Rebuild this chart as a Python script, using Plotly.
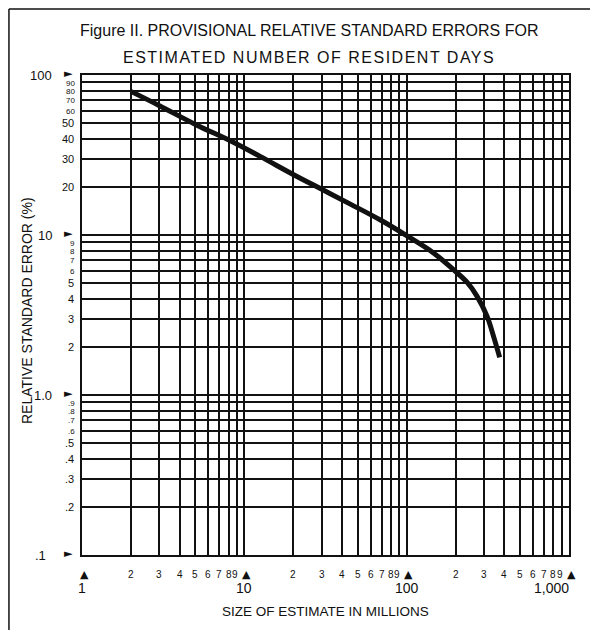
import numpy as np
import plotly.graph_objects as go

# ---- data ----
size_millions = [2, 3, 5.1, 8.2, 12.5, 20, 30, 45, 69, 100, 147, 195, 236, 271, 313, 344, 374]
rse_percent = [79, 64.3, 48.6, 38.8, 31.0, 23.9, 19.3, 15.6, 12.4, 9.9, 7.7, 6.05, 5.05, 4.15, 3.1, 2.3, 1.72]

y_big_labels = [(100, "100"), (10, "10"), (1, "1.0"), (0.1, ".1")]
y_tiny_labels = [(90, "90"), (80, "80"), (70, "70"), (60, "60"),
                 (9, "9"), (8, "8"), (7, "7"), (6, "6"),
                 (0.9, ".9"), (0.8, ".8"), (0.7, ".7"), (0.6, ".6")]
y_mid_labels = [(50, "50"), (40, "40"), (30, "30"), (20, "20"),
                (5, "5"), (4, "4"), (3, "3"), (2, "2"),
                (0.5, ".5"), (0.4, ".4"), (0.3, ".3"), (0.2, ".2")]
x_major_labels = [(1, "1"), (10, "10"), (100, "100"), (1000, "1,000")]
x_minor_digits = [2, 3, 4, 5, 6, 7, 8, 9]

title_line1 = "Figure II. PROVISIONAL RELATIVE STANDARD ERRORS FOR"
title_line2 = "ESTIMATED NUMBER OF RESIDENT DAYS"
x_title = "SIZE OF ESTIMATE IN MILLIONS"
y_title = "RELATIVE STANDARD ERROR (%)"

FONT = "Liberation Sans, Arial, Helvetica, sans-serif"
INK = "#111111"

fig = go.Figure()
fig.add_trace(go.Scatter(
    x=size_millions, y=rse_percent, mode="lines",
    line=dict(color=INK, width=5, shape="spline", smoothing=1.0),
    hoverinfo="skip", showlegend=False))

ann = []
# y labels
for v, t in y_big_labels:
    ann.append(dict(x=0, xref="paper", y=np.log10(v), yref="y", text=t,
                    xanchor="right", yanchor="middle", xshift=-28 if t != ".1" else -34,
                    showarrow=False, font=dict(family=FONT, size=13, color=INK)))
    ann.append(dict(x=0, xref="paper", y=np.log10(v), yref="y", text="►",
                    xanchor="center", yanchor="middle", xshift=-14, yshift=2,
                    showarrow=False, font=dict(family="DejaVu Sans", size=11, color=INK)))
for v, t in y_tiny_labels:
    ann.append(dict(x=0, xref="paper", y=np.log10(v), yref="y", text=t,
                    xanchor="right", yanchor="middle", xshift=-5, yshift=-1,
                    showarrow=False, font=dict(family=FONT, size=8, color=INK)))
for v, t in y_mid_labels:
    ann.append(dict(x=0, xref="paper", y=np.log10(v), yref="y", text=t,
                    xanchor="right", yanchor="middle", xshift=-6,
                    showarrow=False, font=dict(family=FONT, size=11, color=INK)))

# x labels
for d in range(3):
    for k in x_minor_digits:
        v = k * 10 ** d
        ann.append(dict(x=np.log10(v), xref="x", y=0, yref="paper", text=str(k),
                        xanchor="center", yanchor="middle", yshift=-19,
                        xshift=-2 if k == 9 else 0,
                        showarrow=False, font=dict(family=FONT, size=10, color=INK)))
for v, t in x_major_labels:
    ann.append(dict(x=np.log10(v), xref="x", y=0, yref="paper", text="▲",
                    xanchor="center", yanchor="middle", yshift=-19, xshift=2,
                    showarrow=False, font=dict(family="DejaVu Sans", size=11, color=INK)))
    ann.append(dict(x=np.log10(v), xref="x", y=0, yref="paper", text=t,
                    xanchor="right" if v == 1000 else "center", yanchor="middle",
                    yshift=-33, xshift=2 if v == 1000 else 0,
                    showarrow=False, font=dict(family=FONT, size=14, color=INK)))

# titles
ann.append(dict(x=0.4665, xref="paper", y=1, yref="paper", yshift=45, text=title_line1,
                xanchor="center", yanchor="middle", showarrow=False,
                font=dict(family=FONT, size=16, color=INK)))
ann.append(dict(x=0.4665, xref="paper", y=1, yref="paper", yshift=18,
                text='<span style="letter-spacing:1.5px">' + title_line2 + '</span>',
                xanchor="center", yanchor="middle", showarrow=False,
                font=dict(family=FONT, size=16, color=INK)))
ann.append(dict(x=0.499, xref="paper", y=0, yref="paper", yshift=-56, text=x_title,
                xanchor="center", yanchor="middle", showarrow=False,
                font=dict(family=FONT, size=13.5, color=INK)))
ann.append(dict(x=0, xref="paper", xshift=-55, y=0.5, yref="paper", yshift=4, text=y_title,
                textangle=-90, xanchor="center", yanchor="middle", showarrow=False,
                font=dict(family=FONT, size=14, color=INK)))

# page frame (left, top, right)
shapes = [
    dict(type="line", xref="paper", yref="paper", x0=-0.150, x1=-0.150, y0=1.1375, y1=-0.175,
         line=dict(color=INK, width=1.5)),
    dict(type="line", xref="paper", yref="paper", x0=-0.150, x1=1.048, y0=1.1375, y1=1.1375,
         line=dict(color=INK, width=1.5)),
    dict(type="line", xref="paper", yref="paper", x0=1.048, x1=1.048, y0=1.1375, y1=-0.175,
         line=dict(color=INK, width=1.5)),
]

fig.update_layout(
    width=598, height=630,
    margin=dict(l=74, r=37, t=67, b=83),
    paper_bgcolor="white", plot_bgcolor="white",
    annotations=ann, shapes=shapes, showlegend=False,
    xaxis=dict(type="log", range=[0, 3], dtick="D1", showticklabels=False,
               showgrid=True, gridcolor=INK, gridwidth=1.7,
               showline=True, linecolor=INK, linewidth=2, mirror=True,
               ticks="", zeroline=False, fixedrange=True),
    yaxis=dict(type="log", range=[-1, 2], dtick="D1", showticklabels=False,
               showgrid=True, gridcolor=INK, gridwidth=1.7,
               showline=True, linecolor=INK, linewidth=2, mirror=True,
               ticks="", zeroline=False, fixedrange=True),
)

fig.write_html("out.html")
